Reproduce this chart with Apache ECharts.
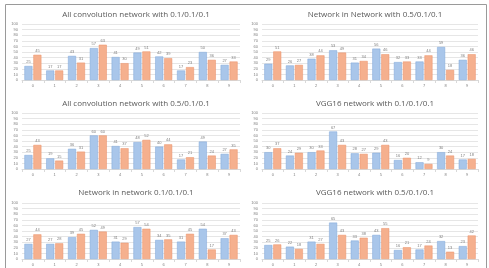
<!DOCTYPE html>
<html>
<head>
<meta charset="utf-8">
<script src="https://cdn.jsdelivr.net/npm/echarts@6/dist/echarts.min.js"></script>
<style>
  html, body { margin: 0; padding: 0; background: #fff; }
  #main { width: 489px; height: 268px; }
</style>
</head>
<body>
<div id="main"></div>
<script>
// categories and tick labels
var categories = ['0', '1', '2', '3', '4', '5', '6', '7', '8', '9'];
var yTicks = [0, 10, 20, 30, 40, 50, 60, 70, 80, 90, 100];

// panel titles
var titles = [
  'All convolution network with 0.1/0.1/0.1',
  'Network in Network with 0.5/0.1/0.1',
  'All convolution network with 0.5/0.1/0.1',
  'VGG16 network with 0.1/0.1/0.1',
  'Network in network 0.1/0.1/0.1',
  'VGG16 network with 0.5/0.1/0.1'
];

// values (blue / orange) per panel
var acn01Blue   = [25, 17, 43, 57, 41, 49, 42, 17, 50, 27];
var acn01Orange = [45, 17, 31, 63, 30, 51, 39, 23, 36, 33];
var nin05Blue   = [29, 26, 38, 53, 31, 56, 32, 33, 59, 36];
var nin05Orange = [51, 27, 44, 49, 34, 46, 33, 44, 18, 46];
var acn05Blue   = [25, 19, 36, 60, 41, 48, 40, 17, 49, 27];
var acn05Orange = [43, 15, 31, 60, 37, 52, 44, 21, 24, 35];
var vgg01Blue   = [30, 24, 30, 67, 28, 29, 16, 12, 30, 17];
var vgg01Orange = [37, 29, 33, 43, 27, 43, 20, 9, 24, 18];
var nin01Blue   = [27, 27, 39, 52, 31, 57, 34, 31, 54, 37];
var nin01Orange = [44, 28, 45, 49, 29, 54, 35, 45, 17, 43];
var vgg05Blue   = [25, 22, 31, 65, 33, 43, 16, 17, 32, 23];
var vgg05Orange = [26, 18, 27, 43, 38, 55, 21, 24, 13, 42];

var panelData = [
  [acn01Blue, acn01Orange],
  [nin05Blue, nin05Orange],
  [acn05Blue, acn05Orange],
  [vgg01Blue, vgg01Orange],
  [nin01Blue, nin01Orange],
  [vgg05Blue, vgg05Orange]
];

var chart = echarts.init(document.getElementById('main'));

// layout of the 3x2 panels
var colLeft = [22, 262];
var colWidth = [218, 216];
var rowTop = [24, 113, 203];
var rowTitle = [6, 95, 184];
var plotH = 56;

var title = [], grid = [], xAxis = [], yAxis = [], series = [];
for (var i = 0; i < 6; i++) {
  var c = i % 2, r = Math.floor(i / 2);
  title.push({
    text: titles[i],
    left: colLeft[c] + colWidth[c] / 2,
    top: rowTitle[r],
    textAlign: 'center',
    textStyle: { fontSize: 8, fontWeight: 'normal', color: '#595959', fontFamily: 'Open Sans' }
  });
  grid.push({ left: colLeft[c], top: rowTop[r], width: colWidth[c], height: plotH });
  xAxis.push({
    type: 'category', gridIndex: i, data: categories,
    axisLine: { lineStyle: { color: '#d9d9d9' } },
    axisTick: { show: true, length: 3, lineStyle: { color: '#d9d9d9' } },
    axisLabel: { fontSize: 4, color: '#7f7f7f', margin: 4 }
  });
  yAxis.push({
    type: 'value', gridIndex: i, min: 0, max: 100, interval: 10,
    axisLine: { show: false }, axisTick: { show: false },
    axisLabel: { fontSize: 4, color: '#7f7f7f', margin: 4 },
    splitLine: { lineStyle: { color: '#e6e6e6', width: 1 } }
  });
  var lbl = { show: true, position: 'top', fontSize: 4, color: '#7f7f7f', distance: 2 };
  series.push({
    type: 'bar', xAxisIndex: i, yAxisIndex: i, data: panelData[i][0],
    barWidth: 8, barGap: '12%',
    itemStyle: { color: '#a9c6ea', borderColor: '#7ea6d8', borderWidth: 0.5 },
    label: lbl
  });
  series.push({
    type: 'bar', xAxisIndex: i, yAxisIndex: i, data: panelData[i][1],
    barWidth: 8, barGap: '12%',
    itemStyle: { color: '#f5b08e', borderColor: '#ea9069', borderWidth: 0.5 },
    label: lbl
  });
}

chart.setOption({
  animation: false,
  backgroundColor: '#fff',
  title: title,
  grid: grid,
  xAxis: xAxis,
  yAxis: yAxis,
  series: series,
  graphic: [{
    type: 'rect', left: 3, top: 2,
    shape: { width: 481, height: 270 },
    style: { fill: 'none', stroke: '#9a9a9a', lineWidth: 1 }
  }]
});
</script>
</body>
</html>
